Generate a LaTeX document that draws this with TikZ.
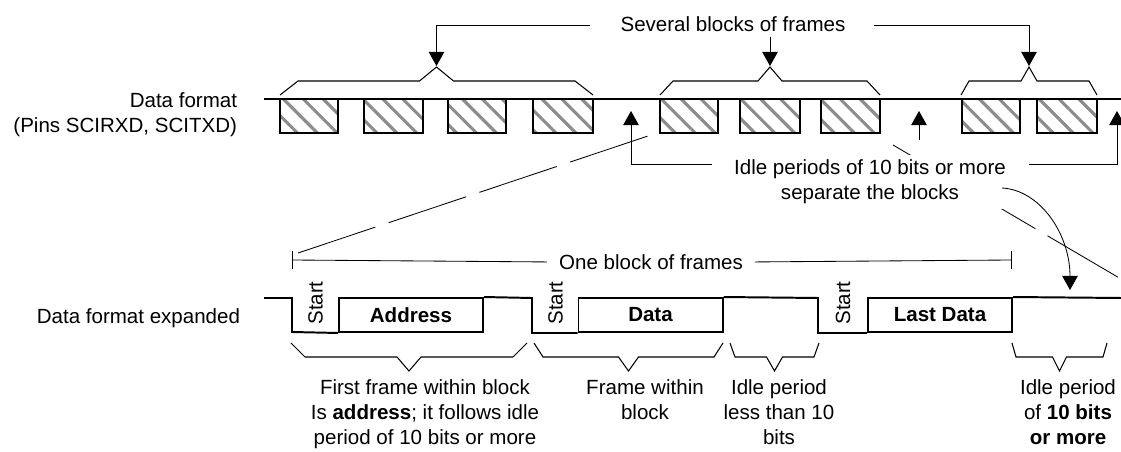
\documentclass[tikz,border=0pt]{standalone}
\usepackage{fontspec}
\setmainfont{Liberation Sans}
\usepackage{tikz}
\usetikzlibrary{arrows.meta,patterns.meta}
\def\fbrace[#1](#2:#3:#4)(#5:#6:#7) {\draw[#1] (#2,#4) -- ({#2+#6},{#4+(#5)}) -- ({(#2+#3)/2-#7},{#4+(#5)}) -- ({(#2+#3)/2},{#4+2*(#5)}) -- ({(#2+#3)/2+#7},{#4+(#5)}) -- ({#3-#6},{#4+(#5)}) -- (#3,#4);}

\begin{document}
\begin{tikzpicture}[x=0.025cm,y=-0.025cm,font=\fontsize{14.6pt}{17.7pt}\selectfont,
	bus/.style={line width=1.4pt},
	frm/.style={line width=1.4pt,pattern={Lines[angle=-45,distance=10pt,line width=2.2pt]},pattern color=black!45},
	brc/.style={line width=0.75pt},
	arr/.style={-{Triangle[length=10pt,width=11pt]},line width=0.6pt},
	zoomln/.style={line width=0.6pt,dash pattern=on 58pt off 10pt},
	field/.style={draw,line width=1.4pt,minimum width=3.6cm,minimum height=0.85cm,inner sep=0pt,font=\fontsize{14.6pt}{17.7pt}\selectfont\bfseries}]
	\useasboundingbox (0,0) rectangle (1121,452);
	
	%ZOOM LINES
	\coordinate (zA) at (298,253);
	\coordinate (zB) at (648,136);
	\coordinate (zC) at (893,145);
	\coordinate (zD) at (1121,279);
	\draw[zoomln] (zA) -- (zB);
	\draw[zoomln,dash phase=8.5pt] (zC) -- (zD);
	
	%TOP BUS
	\node[anchor=east,align=right] (fmt) at (242,115) {Data format\\(Pins SCIRXD, SCITXD)};
	\draw[bus] (264,99) -- (1121,99);
	\foreach \a/\b in {280/338,364/423,448/506,533/593,660/718,740/800,821/880,962/1020,1037/1097}
		\draw[frm] (\a,99) rectangle (\b,133);
	%
	\fbrace[brc](280:593:95)(-14:18:17)
	\fbrace[brc](660:880:95)(-14:13:12)
	\fbrace[brc](961:1097:95)(-14:8:8)
	\coordinate (pkA) at (436.5,66);
	\coordinate (pkB) at (770,66);
	\coordinate (pkC) at (1029,66);
	
	%SEVERAL BLOCKS
	\node (several) at (733,24) {Several blocks of frames};
	\coordinate (sL) at (590,25);
	\coordinate (sR) at (874,25);
	\draw[arr] (sL) -| (pkA);
	\draw[arr] (sR) -| (pkC);
	\draw[arr] (several.south -| pkB) -- (pkB);
	
	%IDLE PERIODS
	\node[fill=white,align=center] (idle) at (870,182) {Idle periods of 10 bits or more\\separate the blocks};
	\coordinate (gA) at (631,111);
	\coordinate (gB) at (919,111);
	\coordinate (gC) at (1117,111);
	\coordinate (iL) at (712,164);
	\coordinate (iR) at (1029,164);
	\coordinate (iB) at (919,140);
	\draw[arr] (iL) -| (gA);
	\draw[arr] (iR) -| (gC);
	\draw[arr] (iB) -- (gB);
	%
	\coordinate (cS) at (1002,188);
	\coordinate (cT) at (1070,290);
	\draw[arr] (cS) .. controls (1040,190) and (1070,234) .. (cT);
	
	%ONE BLOCK
	\node (oneblk) at (651,262) {One block of frames};
	\coordinate (bL) at (292,260);
	\coordinate (bR) at (1011,260);
	\draw[line width=0.6pt,shorten >=5pt] (bL) -- (oneblk.west);
	\draw[line width=0.6pt,shorten >=5pt] (bR) -- (oneblk.east);
	\draw[line width=0.6pt] (bL) ++(0,-9) -- ++(0,18);
	\draw[line width=0.6pt] (bR) ++(0,-9) -- ++(0,18);
	
	%EXPANDED
	\node[anchor=east] (expd) at (245,318) {Data format expanded};
	\node[field] (addr) at (411,315) {Address};
	\node[field] (data) at (650.5,315) {Data};
	\node[field] (last) at (940,315) {Last Data};
	\node[rotate=90] (st1) at (315.5,303) {Start};
	\node[rotate=90] (st2) at (555.5,303) {Start};
	\node[rotate=90] (st3) at (843,303) {Start};
	\draw[bus] (264,298) -| (292,332) -- (addr.south west);
	\draw[bus] (addr.north east) -- (532,298) |- (data.south west);
	\draw[bus] (data.north east) -- (818,298) |- (last.south west);
	\draw[bus] (last.north east) -- (1121,298);
	
	%BOTTOM BRACES
	\fbrace[brc](291:527:343)(14:14:12)
	\fbrace[brc](534:723:343)(14:9:10)
	\fbrace[brc](730:819:343)(14:5:8)
	\fbrace[brc](1012:1107:343)(14:4:7)
	%
	\node[anchor=north,align=center] (first) at (425,375) {First frame within block\\Is \textbf{address}; it follows idle\\period of 10 bits or more};
	\node[anchor=north,align=center] (within) at (645,375) {Frame within\\block};
	\node[anchor=north,align=center] (short) at (779,375) {Idle period\\less than 10\\bits};
	\node[anchor=north,align=center] (long) at (1068,375) {Idle period\\of \textbf{10 bits}\\\textbf{or more}};
\end{tikzpicture}
\end{document}
